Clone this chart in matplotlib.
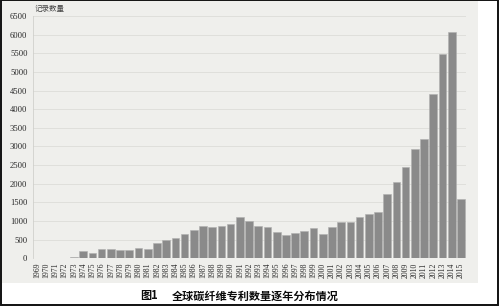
import matplotlib
matplotlib.use("Agg")
import matplotlib.pyplot as plt
from matplotlib.patches import Rectangle

# Annual count of carbon-fibre patent records worldwide
years = list(range(1969, 2016))
counts = [10, 0, 0, 0, 30, 205, 135, 245, 245, 210,
          215, 265, 245, 400, 500, 555, 640, 755, 865, 830,
          875, 930, 1100, 990, 865, 835, 710, 630, 675, 730,
          820, 655, 830, 965, 965, 1110, 1185, 1245, 1735, 2045,
          2440, 2930, 3200, 4400, 5480, 6075, 1590]
y_ticks = list(range(0, 7000, 500))
y_title = "记录数量"
caption_no = "图1"
caption = "全球碳纤维专利数量逐年分布情况"

W, H = 500, 307
fig = plt.figure(figsize=(W / 100, H / 100), dpi=100, facecolor="white")

# page tone behind the chart and the outer frame
fig.patches.append(Rectangle((2 / W, (H - 283) / H), 476 / W, 283 / H,
                             transform=fig.transFigure, facecolor="#efefec",
                             edgecolor="none", zorder=-10))
fig.patches.append(Rectangle((1 / W, 2.5 / H), 497 / W, (H - 2) / H,
                             transform=fig.transFigure, facecolor="none",
                             edgecolor="#111111", linewidth=1.4, zorder=5))

ax = fig.add_axes([33 / W, (H - 258.3) / H, 433 / W, 242.3 / H])
ax.set_facecolor("none")
ax.set_zorder(1)

x = list(range(len(years)))
ax.bar(x, counts, width=0.83, color="#8a8a8a", edgecolor="#b0b0b0",
       linewidth=0.4, zorder=3)

ax.set_xlim(-0.45, len(years) - 0.45)
ax.set_ylim(0, 6500)
ax.set_yticks(y_ticks)
ax.set_yticklabels([str(v) for v in y_ticks], family="Liberation Serif",
                   fontsize=6.2, color="#2a2a2a")
ax.set_xticks(x)
ax.set_xticklabels([str(y) for y in years], rotation=90, family="Liberation Serif",
                   fontsize=5.6, color="#2a2a2a")
ax.tick_params(axis="both", length=0)
ax.tick_params(axis="y", pad=4)
ax.tick_params(axis="x", pad=3)

ax.grid(axis="y", color="#dcdcd8", linewidth=0.6, zorder=0)
for side in ("top", "right", "bottom"):
    ax.spines[side].set_visible(False)
ax.spines["left"].set_color("#d0d0cc")
ax.spines["left"].set_linewidth(0.6)

fig.text(35 / W, (H - 9.5) / H, y_title, family=["Noto Sans CJK SC", "DejaVu Sans"],
         fontsize=5.4, color="#444444", va="center", ha="left")

cap_kw = dict(family=["Noto Sans CJK SC", "DejaVu Sans"], fontsize=8,
              fontweight="heavy", color="#0a0a0a", va="center")
fig.text(140 / W, (H - 296) / H, caption_no, ha="left", **cap_kw)
fig.text(172 / W, (H - 296) / H, caption, ha="left", **cap_kw)

fig.savefig("out.png", dpi=100, facecolor="white")
